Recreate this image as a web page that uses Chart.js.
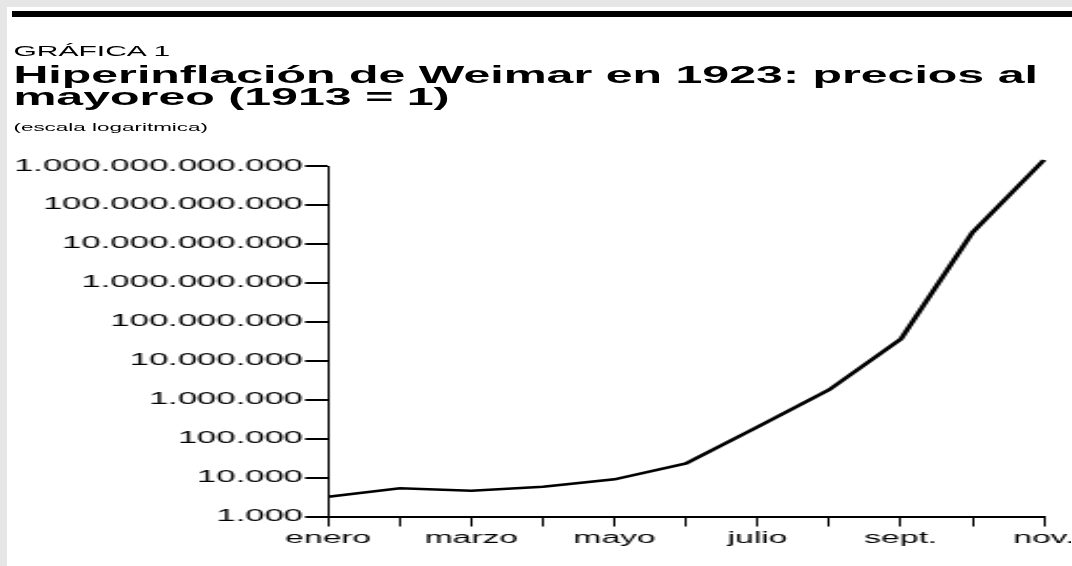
<!DOCTYPE html>
<html>
<head>
<meta charset="utf-8">
<script src="https://cdn.jsdelivr.net/npm/chart.js@4"></script>
<style>
  html, body { margin: 0; padding: 0; background: #fff; overflow: hidden; }
  body { width: 1072px; height: 566px; position: relative; font-family: "Liberation Sans", Arial, sans-serif; color: #000; }
  .band { position: absolute; background: #e6e6e6; }
  #bar { position: absolute; left: 12px; top: 11px; width: 1060px; height: 6px; background: #000; }
  /* the whole figure is stretched sideways, like the original */
  #stage { position: absolute; left: 0; top: 0; width: 510.5px; height: 566px; transform: scaleX(2.1); transform-origin: 0 0; }
  .txt { position: absolute; left: 6.4px; white-space: nowrap; }
  #kicker { top: 44px; font-size: 14.3px; line-height: 14px; }
  #title { top: 64.8px; font-size: 23px; line-height: 21.7px; font-weight: bold; }
  #note { top: 121.7px; font-size: 10.7px; line-height: 11px; }
  #box { position: absolute; left: 0; top: 140px; width: 510px; height: 426px; }
</style>
</head>
<body>
<div class="band" style="left:0;top:0;width:1072px;height:7px"></div>
<div class="band" style="left:0;top:0;width:7px;height:566px"></div>
<div id="bar"></div>
<div id="stage">
  <div class="txt" id="kicker">GRÁFICA 1</div>
  <div class="txt" id="title">Hiperinflación de Weimar en 1923: precios al<br>mayoreo (1913 = 1)</div>
  <div class="txt" id="note">(escala logaritmica)</div>
  <div id="box"><canvas id="myChart"></canvas></div>
</div>
<script>
// meses de 1923 (solo se rotula uno de cada dos)
const months = ["enero", "febrero", "marzo", "abril", "mayo", "junio", "julio", "agosto", "sept.", "oct.", "nov."];
// precios al mayoreo, 1913 = 1
const prices = [3200, 5300, 4600, 5800, 9000, 23000, 200000, 1800000, 36000000, 19500000000, 1430000000000];
const yTicks = [1e3, 1e4, 1e5, 1e6, 1e7, 1e8, 1e9, 1e10, 1e11, 1e12];
const yTickLabels = ["1.000", "10.000", "100.000", "1.000.000", "10.000.000", "100.000.000",
  "1.000.000.000", "10.000.000.000", "100.000.000.000", "1.000.000.000.000"];

Chart.defaults.font.family = '"Liberation Sans", Arial, sans-serif';
Chart.defaults.color = '#000';

const ctx = document.getElementById('myChart').getContext('2d');
const myChart = new Chart(ctx, {
    type: 'line',
    data: {
        labels: months,
        datasets: [{
            data: prices,
            borderColor: '#000',
            borderWidth: 2.6,
            pointRadius: 0,
            tension: 0,
            fill: false,
            clip: false
        }]
    },
    options: {
        responsive: true,
        maintainAspectRatio: false,
        animation: false,
        events: [],
        layout: {
            padding: { left: 0, right: 12.9, top: 26, bottom: 0 }
        },
        plugins: {
            legend: { display: false },
            tooltip: { enabled: false }
        },
        scales: {
            x: {
                offset: false,
                grid: {
                    drawOnChartArea: false,
                    color: '#000',
                    lineWidth: 1,
                    tickLength: 10
                },
                border: { color: '#000', width: 2 },
                ticks: {
                    autoSkip: false,
                    maxRotation: 0,
                    padding: 2,
                    font: { size: 16 },
                    callback: (v, i) => (i % 2 === 0 ? months[i] : '')
                },
                afterFit: (scale) => {
                    scale.height = 49.5;
                    scale.paddingLeft = 0;
                    scale.paddingRight = 0;
                }
            },
            y: {
                type: 'logarithmic',
                min: 1e3,
                max: 1e12,
                grid: {
                    drawOnChartArea: false,
                    color: '#000',
                    lineWidth: 2,
                    tickLength: 11
                },
                border: { color: '#000', width: 1 },
                ticks: {
                    padding: 1,
                    font: { size: 16.5 },
                    callback: (v, i) => yTickLabels[i]
                },
                afterBuildTicks: (scale) => {
                    scale.ticks = yTicks.map(v => ({ value: v }));
                },
                afterFit: (scale) => {
                    scale.width = 156.3;
                }
            }
        }
    }
});
</script>
</body>
</html>
